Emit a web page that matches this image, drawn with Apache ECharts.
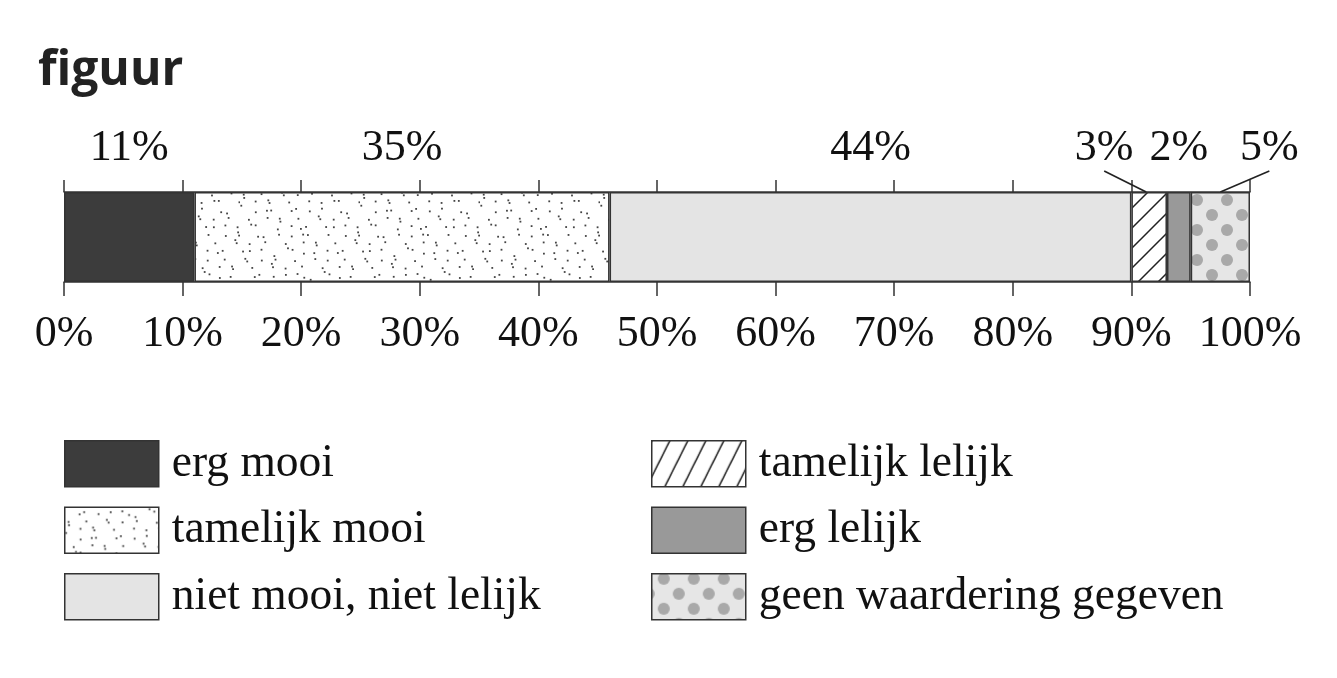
<!DOCTYPE html>
<html>
<head>
<meta charset="utf-8">
<script src="https://cdn.jsdelivr.net/npm/echarts@6/dist/echarts.min.js"></script>
<style>
  html, body { margin: 0; padding: 0; background: #fff; }
  #main_charts { width: 1337px; height: 678px; }
</style>
</head>
<body>
<div id="main_charts"></div>
<script>
// waarden uit de figuur
var categories = [''];
var seriesNames = ['erg mooi', 'tamelijk mooi', 'niet mooi, niet lelijk',
                   'tamelijk lelijk', 'erg lelijk', 'geen waardering gegeven'];
var shares = [11, 35, 44, 3, 2, 5];
var leftLegend = ['erg mooi', 'tamelijk mooi', 'niet mooi, niet lelijk'];
var rightLegend = ['tamelijk lelijk', 'erg lelijk', 'geen waardering gegeven'];

// stijl: verschuiving van de kleine labels (px)
var labelShift = [0, 0, 0, -45, 0, 49];
var serif = '"Liberation Serif", "Times New Roman", serif';

function tile(w, h, draw) {
    var c = document.createElement('canvas');
    c.width = w; c.height = h;
    draw(c.getContext('2d'), w, h);
    return c;
}

// fijne stippen, gelijkmatig verdeeld (R2-reeks, geen toeval)
var speckle = tile(120, 90, function (g, w, h) {
    g.fillStyle = '#fff'; g.fillRect(0, 0, w, h);
    g.fillStyle = '#444';
    var a1 = 0.7548776662466927, a2 = 0.5698402909980532;
    for (var i = 0; i < 105; i++) {
        var x = ((0.5 + a1 * i) % 1) * w + 3 * Math.sin(i * 2.3);
        var y = ((0.5 + a2 * i) % 1) * h + 3 * Math.cos(i * 1.7);
        g.fillRect((x + w) % w, (y + h) % h, 1.8, 1.8);
    }
});

// schuine arcering, 45 graden in de balk
var hatch = tile(20, 20, function (g, w, h) {
    g.fillStyle = '#fff'; g.fillRect(0, 0, w, h);
    g.strokeStyle = '#222'; g.lineWidth = 1.5;
    g.beginPath();
    g.moveTo(0, h); g.lineTo(w, 0);
    g.moveTo(-2, 2); g.lineTo(2, -2);
    g.moveTo(w - 2, h + 2); g.lineTo(w + 2, h - 2);
    g.stroke();
});

// steilere arcering in de legenda
var hatchLegend = tile(18, 36, function (g, w, h) {
    g.fillStyle = '#fff'; g.fillRect(0, 0, w, h);
    g.strokeStyle = '#222'; g.lineWidth = 1.5;
    g.beginPath();
    g.moveTo(0, h); g.lineTo(w, 0);
    g.moveTo(-1, 2); g.lineTo(1, -2);
    g.moveTo(w - 1, h + 2); g.lineTo(w + 1, h - 2);
    g.stroke();
});

var polka = tile(30, 30, function (g, w, h) {
    g.fillStyle = '#e6e6e6'; g.fillRect(0, 0, w, h);
    g.fillStyle = '#a9a9a9';
    [[27, 20], [12, 5]].forEach(function (p) {
        [-30, 0, 30].forEach(function (dx) {
            [-30, 0, 30].forEach(function (dy) {
                g.beginPath(); g.arc(p[0] + dx, p[1] + dy, 6, 0, Math.PI * 2); g.fill();
            });
        });
    });
});

var fills = [
    '#3c3c3c',
    { image: speckle, repeat: 'repeat' },
    '#e4e4e4',
    { image: hatch, repeat: 'repeat' },
    '#999999',
    { image: polka, repeat: 'repeat' }
];

var starts = [];
shares.reduce(function (acc, v) { starts.push(acc); return acc + v; }, 0);

var myChart = echarts.init(document.getElementById('main_charts'));

var series = seriesNames.map(function (name, i) {
    return {
        name: name,
        type: 'bar',
        stack: 'totaal',
        barWidth: '100%',
        xAxisIndex: 0,
        data: [shares[i]],
        itemStyle: { color: fills[i], borderColor: '#333', borderWidth: 1.5 },
        emphasis: { disabled: true }
    };
});

series.push({
    type: 'custom',
    name: 'labels',
    clip: false,
    silent: true,
    xAxisIndex: 0,
    encode: { x: 0, y: 1 },
    data: shares.map(function (v, i) { return [starts[i], 0, v]; }),
    renderItem: function (params, api) {
        var i = params.dataIndex;
        var v = api.value(2);
        var c = api.coord([api.value(0) + v / 2, 0]);
        var top = c[1] - api.size([0, 1])[1] / 2;
        var lx = c[0] + labelShift[i];
        var kids = [{
            type: 'text',
            x: lx, y: top - 44,
            style: {
                text: v + '%', fill: '#111',
                fontSize: 44, fontFamily: serif,
                align: 'center', verticalAlign: 'middle'
            }
        }];
        if (labelShift[i] !== 0) {
            kids.push({
                type: 'line',
                shape: { x1: lx, y1: top - 21, x2: c[0] - (labelShift[i] < 0 ? 3 : 0), y2: top },
                style: { stroke: '#222', lineWidth: 1.6 }
            });
        }
        return { type: 'group', children: kids };
    }
});

var legendCommon = {
    orient: 'vertical',
    top: 435,
    icon: 'rect',
    itemWidth: 94,
    itemHeight: 46,
    itemGap: 19,
    selectedMode: false,
    itemStyle: { borderColor: '#333', borderWidth: 1.5 },
    textStyle: { fontSize: 45.5, fontFamily: serif, color: '#111', padding: [0, 0, 0, 8] }
};

var option = {
    animation: false,
    title: {
        text: 'figuur',
        left: 33, top: 42,
        textStyle: { fontSize: 48, fontWeight: 'bold', fontFamily: '"Open Sans", sans-serif', color: '#222' }
    },
    legend: [
        Object.assign({ left: 59, data: leftLegend }, legendCommon),
        Object.assign({
            left: 646,
            data: rightLegend.map(function (n, k) {
                return k === 0 ? { name: n, itemStyle: { color: { image: hatchLegend, repeat: 'repeat' } } } : n;
            })
        }, legendCommon)
    ],
    grid: { left: 64, right: 87, top: 192, bottom: 396, containLabel: false },
    xAxis: [{
        type: 'value', min: 0, max: 100, interval: 10, position: 'bottom',
        splitLine: { show: false },
        axisLine: { show: true, lineStyle: { color: '#333', width: 1.5 } },
        axisTick: { show: true, length: 14, lineStyle: { color: '#333', width: 1.5 } },
        axisLabel: {
            formatter: '{value}%', margin: 30, showMinLabel: true, showMaxLabel: true,
            fontSize: 44, fontFamily: serif, color: '#111'
        }
    }, {
        type: 'value', min: 0, max: 100, interval: 10, position: 'top',
        splitLine: { show: false },
        axisLine: { show: true, lineStyle: { color: '#333', width: 1.5 } },
        axisTick: { show: true, length: 12, lineStyle: { color: '#333', width: 1.5 } },
        axisLabel: { show: false }
    }],
    yAxis: {
        type: 'category', data: categories, show: false
    },
    series: series
};

myChart.setOption(option);
</script>
</body>
</html>
